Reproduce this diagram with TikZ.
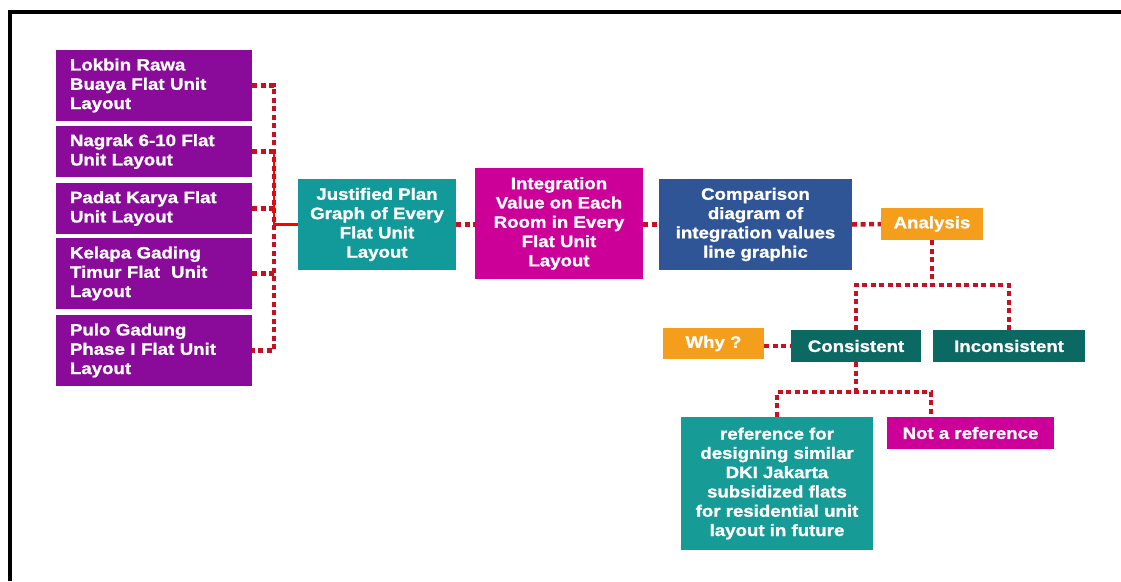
\documentclass[tikz,border=0pt]{standalone}
\usepackage{fontspec}
\newfontfamily\boxfont{Liberation Sans}[FakeStretch=1.13, FakeBold=1.2]
\definecolor{cpurple}{RGB}{138,10,154}
\definecolor{cmagenta}{RGB}{204,0,153}
\definecolor{cteal}{RGB}{18,154,154}
\definecolor{cteal2}{RGB}{22,155,150}
\definecolor{cdark}{RGB}{11,104,98}
\definecolor{cblue}{RGB}{47,85,150}
\definecolor{corange}{RGB}{245,158,27}
\definecolor{cred}{RGB}{200,16,32}
\tikzset{
  box/.style={draw=none, text=white, inner sep=0pt, align=center,
    font=\boxfont\bfseries\fontsize{16.5}{19.3}\selectfont},
  lbox/.style={box, fill=cpurple, minimum width=196pt, text width=168pt, align=left},
  dotline/.style={draw=cred, line width=4.5pt, dash pattern=on 5pt off 3.5pt},
  solidred/.style={draw=red, line width=2.5pt},
}
\begin{document}
\begin{tikzpicture}[x=1pt,y=-1pt]
\useasboundingbox (0,0) rectangle (1121,581);
\fill[white] (0,0) rectangle (1121,581);
\draw[line width=4pt] (10,581) -- (10,12) -- (1125,12);

\node[lbox, minimum height=71pt] (L1) at (154,85.5) {Lokbin Rawa\\Buaya Flat Unit\\Layout};
\node[lbox, minimum height=51pt] (L2) at (154,151.5) {Nagrak 6-10 Flat\\Unit Layout};
\node[lbox, minimum height=51pt] (L3) at (154,208.5) {Padat Karya Flat\\Unit Layout};
\node[lbox, minimum height=71pt] (L4) at (154,273.5) {Kelapa Gading\\Timur Flat\ \ Unit\\Layout};
\node[lbox, minimum height=71pt] (L5) at (154,350.5) {Pulo Gadung\\Phase I Flat Unit\\Layout};

\node[box, fill=cteal, minimum width=158pt, minimum height=91pt] (JP) at (377,224.5) {Justified Plan\\Graph of Every\\Flat Unit\\Layout};
\node[box, fill=cmagenta, minimum width=168pt, minimum height=111pt] (INT) at (559,223.5) {Integration\\Value on Each\\Room in Every\\Flat Unit\\Layout};
\node[box, fill=cblue, minimum width=193pt, minimum height=91pt] (CMP) at (755.5,224.5) {Comparison\\diagram of\\integration values\\line graphic};
\node[box, fill=corange, minimum width=102pt, minimum height=32pt] (ANA) at (932,224) {Analysis};
\node[box, fill=corange, minimum width=101pt, minimum height=31pt] (WHY) at (713.5,343.5) {Why ?};
\node[box, fill=cdark, minimum width=130pt, minimum height=32pt] (CON) at (856,346) {Consistent};
\node[box, fill=cdark, minimum width=152pt, minimum height=32pt] (INC) at (1009,346) {Inconsistent};
\node[box, fill=cteal2, minimum width=192pt, minimum height=133pt] (REF) at (777,483.5) {reference for\\designing similar\\DKI Jakarta\\subsidized flats\\for residential unit\\layout in future};
\node[box, fill=cmagenta, minimum width=167pt, minimum height=32pt] (NAR) at (970.5,433) {Not a reference};

% left bus
\coordinate (bt) at (274,85.5);
\coordinate (bb) at (274,350.5);
\coordinate (bj) at (274,153);
\draw[dotline] (L1.east) -- (bt) -- (bb) -- (L5.east);
\draw[dotline] (L2.east) -- (L2.east -| bt);
\draw[dotline] (L3.east) -- (L3.east -| bt);
\draw[dotline] (L4.east) -- (L4.east -| bt);
\draw[solidred] (bj) |- (JP.west);

\draw[dotline] (JP.east) -- (INT.west |- JP.east);
\draw[dotline] (INT.east |- CMP.west) -- (CMP.west);
\draw[dotline] (CMP.east) -- (ANA.west);

\coordinate (a1) at (932,285);
\draw[dotline] (ANA.south) -- (a1);
\draw[dotline] (CON.north) -- (CON.north |- a1) -- (INC.north |- a1) -- (INC.north);
\draw[dotline] (WHY.east |- CON.west) -- (CON.west);

\coordinate (c1) at (856,392);
\coordinate (nt) at (931,417);
\draw[dotline] (CON.south) -- (c1);
\draw[dotline] (REF.north) -- (REF.north |- c1) -- (nt |- c1) -- (nt);
\end{tikzpicture}
\end{document}
